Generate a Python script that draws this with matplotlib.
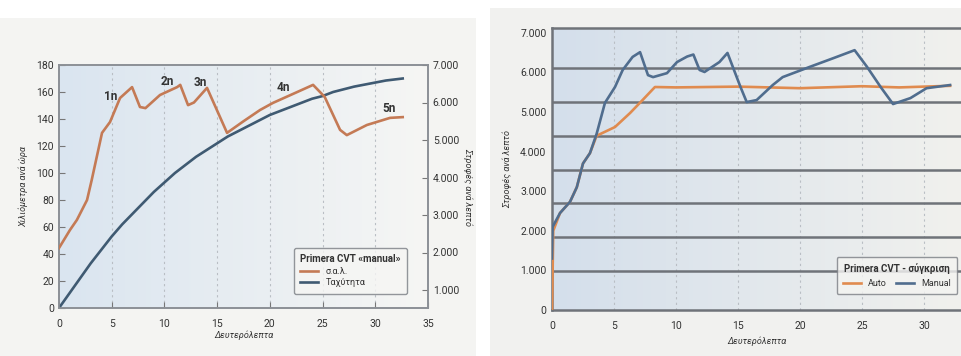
import numpy as np
import matplotlib
matplotlib.use("Agg")
import matplotlib.pyplot as plt
from matplotlib.colors import LinearSegmentedColormap
from matplotlib.patches import Rectangle
from matplotlib.ticker import FuncFormatter

plt.rcParams['font.family'] = ['Liberation Sans Narrow', 'Roboto', 'DejaVu Sans']

# left chart: Primera CVT "manual" - rpm (right axis) and speed (left axis)
rpm_time = [0, 1.04, 1.7, 2.66, 3.1, 4.08, 4.84, 5.79, 6.93, 7.68, 8.2, 9.58, 11.2, 11.5,
            12.24, 12.8, 14.04, 15.94, 17.5, 19.07, 20.3, 22.6, 24.1, 25.2, 26.66, 27.3,
            29.2, 31.4, 32.6]
rpm_manual = [2120, 2600, 2870, 3400, 3930, 5190, 5480, 6120, 6410, 5880, 5850, 6200, 6410, 6470,
              5930, 6000, 6390, 5190, 5500, 5800, 5990, 6280, 6470, 6150, 5270, 5130,
              5400, 5590, 5610]

speed_time = [0, 1, 2, 3, 4, 5, 6, 7, 8, 9, 10, 11, 12, 13, 14, 15, 16, 17, 18, 19, 20,
              21, 22, 23, 24, 25, 26, 27, 28, 29, 30, 31, 32.6]
speed_kmh = [0, 11, 22, 33, 43, 53, 62, 70, 78, 86, 93, 100, 106, 112, 117, 122, 127, 131,
             135, 139, 143, 146, 149, 152, 155, 157, 160, 162, 164, 165.5, 167, 168.5, 170]

gear_labels = ['1n', '2n', '3n', '4n', '5n']
gear_time = [4.9, 10.3, 13.4, 21.3, 31.3]
gear_rpm = [6150, 6560, 6530, 6400, 5850]

# right chart: Primera CVT - comparison
manual_time = [0, 0.05, 0.65, 1.45, 2.0, 2.5, 3.06, 3.6, 4.27, 5.08, 5.7, 6.5, 7.1, 7.74,
               8.15, 9.27, 10.08, 10.9, 11.4, 11.9, 12.3, 13.5, 14.15, 15.2, 15.7, 16.5,
               17.8, 18.6, 20.8, 22.7, 24.4, 25.4, 26.5, 27.5, 28.9, 30.2, 32.1]
manual_rpm = [1300, 2100, 2450, 2730, 3100, 3700, 3960, 4450, 5230, 5630, 6060, 6390, 6510, 5930,
              5880, 5980, 6260, 6400, 6450, 6060, 6010, 6260, 6490, 5630, 5250, 5300,
              5680, 5880, 6140, 6360, 6560, 6140, 5630, 5200, 5350, 5600, 5680]
auto_time = [0, 0.1, 0.65, 1.45, 2.0, 2.5, 3.06, 3.6, 5.08, 6.3, 7.3, 8.3, 10, 15, 20, 25,
             28, 30, 32.1]
auto_rpm = [0, 2000, 2450, 2730, 3100, 3700, 3960, 4400, 4620, 4975, 5300, 5630, 5620, 5640,
            5600, 5650, 5620, 5640, 5660]

orange_l = '#c47a55'
blue_l = '#3f5a72'
orange_r = '#e08b4f'
blue_r = '#506d8e'
txt = '#333333'

thousands = FuncFormatter(lambda v, p: '0' if v == 0 else f'{v/1000:.3f}')

fig = plt.figure(figsize=(9.62, 3.56), dpi=100)
fig.patches.append(Rectangle((0, 0), 476 / 962, 338 / 356, transform=fig.transFigure,
                             facecolor='#f4f4f2', edgecolor='none', zorder=-10))
fig.patches.append(Rectangle((490 / 962, 0), 472 / 962, 348 / 356, transform=fig.transFigure,
                             facecolor='#f1f1ef', edgecolor='none', zorder=-10))


def shade(ax, c1, c2):
    cmap = LinearSegmentedColormap.from_list('bg', [c1, c2])
    grad = np.linspace(0, 1, 256).reshape(1, -1)
    ax.imshow(grad, cmap=cmap, extent=[0, 1, 0, 1], transform=ax.transAxes,
              aspect='auto', zorder=0)


# ---- left chart
ax1 = fig.add_axes([59 / 962, 48 / 356, 369 / 962, 243 / 356])
shade(ax1, '#dae5f0', '#f6f6f4')
ax1.plot(speed_time, speed_kmh, color=blue_l, lw=1.9, zorder=3, label='Ταχύτητα')
ax1.set_xlim(0, 35)
ax1.set_ylim(0, 180)
ax1.set_xticks(range(0, 36, 5))
ax1.set_yticks(range(0, 181, 20))
for x in range(5, 35, 5):
    ax1.axvline(x, color='#b9bec4', lw=0.8, ls=(0, (2, 3)), zorder=1)
ax1.tick_params(direction='in', length=4, colors='#777', labelcolor=txt, labelsize=7.5)
ax1.tick_params(axis='x', pad=8)
for s in ax1.spines.values():
    s.set_color('#8c9096')
    s.set_linewidth(1.2)
ax1.set_xlabel('Δευτερόλεπτα', fontsize=6.5, style='italic', color=txt, labelpad=1)
ax1.set_ylabel('Χιλιόμετρα ανά ώρα', fontsize=6.5, style='italic', color=txt, labelpad=6)

ax2 = ax1.twinx()
ax2.plot(rpm_time, rpm_manual, color=orange_l, lw=1.9, zorder=3, label='σ.α.λ.')
ax2.set_ylim(520, 7000)
ax2.set_yticks(range(1000, 7001, 1000))
ax2.yaxis.set_major_formatter(thousands)
ax2.tick_params(direction='in', length=4, colors='#777', labelcolor=txt, labelsize=7.5)
for s in ax2.spines.values():
    s.set_color('#8c9096')
    s.set_linewidth(1.2)
ax2.set_ylabel('Στροφές ανά λεπτό', fontsize=6.5, style='italic', color=txt,
               rotation=270, labelpad=10)
for lab, x, y in zip(gear_labels, gear_time, gear_rpm):
    ax2.text(x, y, lab, fontsize=8.5, fontweight='bold', color='#333', ha='center',
             va='center', zorder=5)

h1, l1 = ax2.get_legend_handles_labels()
h2, l2 = ax1.get_legend_handles_labels()
leg = ax2.legend(h1 + h2, l1 + l2, title='Primera CVT «manual»', loc='lower right',
                 bbox_to_anchor=(0.955, 0.04), fontsize=6.5, title_fontsize=7,
                 frameon=True, fancybox=True, facecolor='#f6f6f4', edgecolor='#7a7e84',
                 handlelength=2.0, labelspacing=0.3, borderpad=0.7)
leg.get_title().set_fontweight('bold')
leg.get_title().set_color(txt)
leg._legend_box.align = 'left'
for t in leg.get_texts():
    t.set_color(txt)

# ---- right chart
ax3 = fig.add_axes([552 / 962, 46 / 356, 410 / 962, 282 / 356])
shade(ax3, '#d4dfeb', '#f1f1ee')
ax3.plot(auto_time, auto_rpm, color=orange_r, lw=1.9, zorder=3, label='Auto')
ax3.plot(manual_time, manual_rpm, color=blue_r, lw=1.9, zorder=4, label='Manual')
ax3.set_xlim(0, 33.06)
ax3.set_ylim(0, 7120)
ax3.set_xticks(range(0, 31, 5))
ax3.set_yticks(range(0, 7001, 1000))
ax3.yaxis.set_major_formatter(thousands)
ax3.set_yticks([985, 1845, 2700, 3535, 4390, 5250, 6110], minor=True)
ax3.grid(axis='y', which='minor', color='#6f7379', lw=1.8, zorder=2)
for x in range(5, 35, 5):
    ax3.axvline(x, color='#b9bec4', lw=0.8, ls=(0, (2, 3)), zorder=1)
ax3.tick_params(which='both', length=0, labelcolor=txt, labelsize=7.5, pad=4)
ax3.tick_params(axis='x', pad=8)
ax3.spines['right'].set_visible(False)
for k in ['left', 'bottom', 'top']:
    ax3.spines[k].set_color('#6f7379')
    ax3.spines[k].set_linewidth(1.8)
ax3.set_xlabel('Δευτερόλεπτα', fontsize=6.5, style='italic', color=txt, labelpad=4)
ax3.set_ylabel('Στροφές ανά λεπτό', fontsize=6.5, style='italic', color=txt, labelpad=6)

leg3 = ax3.legend(title='Primera CVT - σύγκριση', loc='lower right', ncol=2,
                  bbox_to_anchor=(1.0, 0.04), fontsize=6.5, title_fontsize=7,
                  frameon=True, fancybox=True, facecolor='#f4f4f2', edgecolor='#7a7e84',
                  handlelength=2.0, columnspacing=1.0, borderpad=0.7)
leg3.get_title().set_fontweight('bold')
leg3.get_title().set_color(txt)
for t in leg3.get_texts():
    t.set_color(txt)

fig.savefig('out.png', dpi=100)
